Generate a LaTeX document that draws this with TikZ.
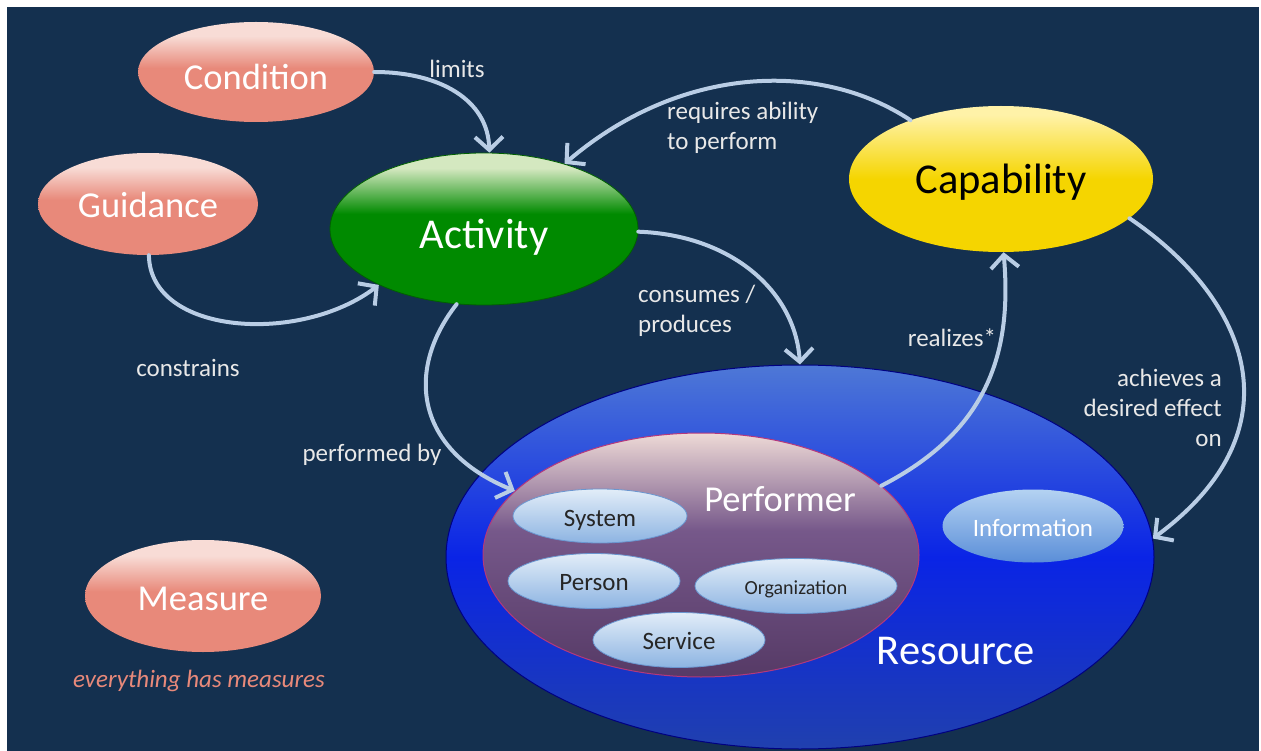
\documentclass[tikz,border=0pt]{standalone}
\usepackage{fontspec}
\setmainfont{Carlito}
\usetikzlibrary{shapes.geometric,arrows.meta}

\definecolor{bgnavy}{HTML}{14304F}
\definecolor{arrowblue}{HTML}{B9CDE5}
\definecolor{labelgray}{HTML}{E8E8E8}
\definecolor{salmon}{HTML}{E8897A}
\definecolor{salmonlt}{HTML}{F8DCD6}
\definecolor{grn}{HTML}{008A00}
\definecolor{grnlt}{HTML}{D4E8C0}
\definecolor{yel}{HTML}{F5D500}
\definecolor{yellt}{HTML}{FFF2A8}
\definecolor{resblue}{HTML}{0A24E6}
\definecolor{resbluelt}{HTML}{4E78D6}
\definecolor{resbluedk}{HTML}{2040AE}
\definecolor{perfmauve}{HTML}{76588A}
\definecolor{perfdk}{HTML}{563A66}
\definecolor{perflt}{HTML}{EEDAD6}
\definecolor{chiplt}{HTML}{E2EDF8}
\definecolor{chipdk}{HTML}{8DB4E2}
\definecolor{chipline}{HTML}{6A96D0}
\definecolor{infolt}{HTML}{B4D2F2}
\definecolor{infodk}{HTML}{5A8ED8}

% vertical shadings: 25bp = bottom edge, 75bp = top edge of the shape
\pgfdeclareverticalshading{salmonsh}{100bp}{color(0bp)=(salmon); color(25bp)=(salmon); color(52bp)=(salmon); color(68bp)=(salmonlt); color(100bp)=(salmonlt)}
\pgfdeclareverticalshading{greensh}{100bp}{color(0bp)=(grn); color(25bp)=(grn); color(55bp)=(grn); color(70bp)=(grnlt); color(100bp)=(grnlt)}
\pgfdeclareverticalshading{yellowsh}{100bp}{color(0bp)=(yel); color(25bp)=(yel); color(50bp)=(yel); color(72bp)=(yellt); color(100bp)=(yellt)}
\pgfdeclareverticalshading{resourcesh}{100bp}{color(0bp)=(resbluedk); color(25bp)=(resbluedk); color(50bp)=(resblue); color(75bp)=(resbluelt); color(100bp)=(resbluelt)}
\pgfdeclareverticalshading{performersh}{100bp}{color(0bp)=(perfdk); color(25bp)=(perfdk); color(55bp)=(perfmauve); color(75bp)=(perflt); color(100bp)=(perflt)}
\pgfdeclareverticalshading{chipsh}{100bp}{color(0bp)=(chipdk); color(25bp)=(chipdk); color(75bp)=(chiplt); color(100bp)=(chiplt)}
\pgfdeclareverticalshading{infosh}{100bp}{color(0bp)=(infodk); color(25bp)=(infodk); color(75bp)=(infolt); color(100bp)=(infolt)}

% lower a text inside its node without changing the node's size
\newcommand{\dropby}[2]{\raisebox{-#1}[\height][\depth]{#2}}

\tikzset{
  oval/.style 2 args={ellipse, minimum width=#1, minimum height=#2, inner sep=0pt},
  bigtext/.style={font=\fontsize{42.5}{50}\selectfont},
  midtext/.style={font=\fontsize{36.5}{44}\selectfont},
  smalltext/.style={font=\fontsize{25}{30}\selectfont},
  lbl/.style={text=labelgray, font=\fontsize{25}{30}\selectfont, inner sep=0pt},
  rel/.style={draw=arrowblue, line width=4pt, line cap=round,
    -{Straight Barb[length=13pt,width=28pt]}},
  chip/.style={shading=chipsh, draw=chipline, line width=0.8pt, text=black!85, smalltext},
}

\begin{document}
\begin{tikzpicture}[x=1pt,y=-1pt]
  \useasboundingbox (0,0) rectangle (1261,751);
  \fill[white] (0,0) rectangle (1261,751);
  \fill[bgnavy] (7,7) rectangle (1259,751);

  % main concepts
  \node[oval={236pt}{100pt}, shading=salmonsh, text=white, midtext] (cond) at (256,72) {\dropby{5pt}{Condition}};
  \node[oval={220pt}{102pt}, shading=salmonsh, text=white, midtext] (guid) at (148,204) {\dropby{1pt}{Guidance}};
  \node[oval={236pt}{112pt}, shading=salmonsh, text=white, midtext] (meas) at (203,596) {\dropby{3pt}{Measure}};
  \node[text=salmon, font=\fontsize{25}{30}\selectfont\itshape, inner sep=0pt] (measnote) at (199,681) {everything has measures};

  \node[oval={308pt}{152pt}, shading=greensh, draw=grn!70!black, line width=0.8pt, text=white, bigtext] (act) at (484,229) {\dropby{8pt}{Activity}};
  \node[oval={304pt}{146pt}, shading=yellowsh, text=black, bigtext] (cap) at (1001,179) {\dropby{3pt}{Capability}};

  % resource and its kinds
  \node[oval={708pt}{384pt}, shading=resourcesh, draw=blue!50!black, line width=1pt] (res) at (800,557) {};
  \node[text=white, bigtext, inner sep=0pt] (restext) at (956,651) {Resource};
  \node[oval={436pt}{244pt}, shading=performersh, draw=magenta!70!black, line width=1pt] (perf) at (701,555) {};
  \node[text=white, midtext, inner sep=0pt] (perftext) at (780,499) {Performer};

  \node[oval={174pt}{54pt}, chip] (sys) at (600,516) {\dropby{4pt}{System}};
  \node[oval={172pt}{55pt}, chip] (pers) at (594,581) {\dropby{2pt}{Person}};
  \node[oval={202pt}{55pt}, chip, font=\fontsize{20}{24}\selectfont] (org) at (796,586) {\dropby{3pt}{Organization}};
  \node[oval={172pt}{55pt}, chip] (serv) at (679,640) {\dropby{1pt}{Service}};
  \node[oval={181pt}{73pt}, shading=infosh, text=white, smalltext] (info) at (1033,526) {\dropby{2pt}{Information}};

  % relations
  \draw[rel] (cond.east) .. controls (440,72) and (488,100) .. (act.86);
  \node[lbl] (limitslbl) at (457,69) {limits};

  \draw[rel] (guid.-89) .. controls (150,335) and (300,345) .. (act.208);
  \node[lbl] (constrlbl) at (188,368) {constrains};

  \draw[rel] (cap.147) .. controls (820,60) and (680,65) .. (act.39);
  \node[lbl, align=left, anchor=west] (reqlbl) at (667,128) {requires ability\\to perform};

  \draw[rel] (act.-1) .. controls (730,235) and (795,290) .. (res.north);
  \node[lbl, align=left, anchor=west] (conslbl) at (638,311) {consumes /\\produces};

  \draw[rel] (act.250) .. controls (405,370) and (415,450) .. (perf.161);
  \node[lbl] (perflbl) at (372,455) {performed by};

  \draw[rel] (perf.21) .. controls (990,430) and (1012,350) .. (cap.-88);
  \node[lbl] (reallbl) at (952,338) {realizes*};

  \draw[rel] (cap.-17) .. controls (1250,300) and (1300,430) .. (res.3);
  \node[lbl, align=right, anchor=east] (achlbl) at (1222,408) {achieves a\\desired effect\\on};
\end{tikzpicture}
\end{document}
